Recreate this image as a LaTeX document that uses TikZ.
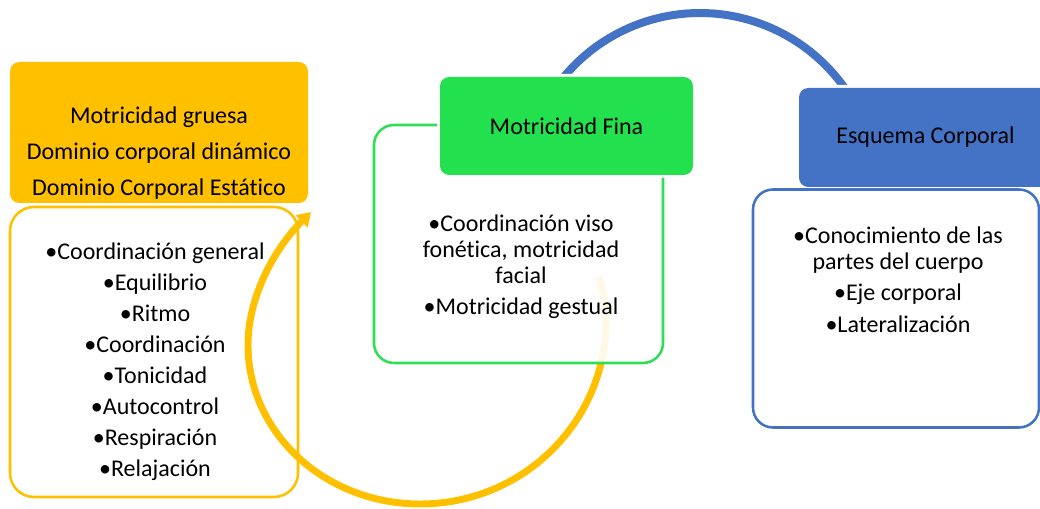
\documentclass[tikz,border=0pt]{standalone}
\usepackage{fontspec}
\setmainfont{Carlito}[Ligatures=NoCommon]
\usetikzlibrary{arrows.meta}
\definecolor{cyel}{HTML}{FFC000}
\definecolor{cgrn}{HTML}{23E04E}
\definecolor{cgrnl}{HTML}{2EDF55}
\definecolor{cblu}{HTML}{4472C4}
\tikzset{
  headbox/.style={rectangle, rounded corners=7pt, inner sep=0pt,
    preaction={draw=white, line width=4.5pt}},
  outbox/.style={rectangle, inner sep=0pt, line width=1.9pt, fill=white},
  txt/.style={align=center, inner sep=0pt, text=black},
  bodyfont/.style={font=\fontsize{18}{23.25}\selectfont},
  wrapfont/.style={font=\fontsize{18}{19.5}\selectfont},
  yarc/.style={draw=cyel, line width=5.2pt, -{Triangle[width=12.5pt,length=10pt]}},
  barc/.style={draw=cblu, line width=6pt}
}
\begin{document}
\begin{tikzpicture}[x=0.75pt, y=-0.75pt]
\useasboundingbox (0,0) rectangle (1040,509);
% yellow column
\node[headbox, fill=cyel, minimum width=223.5pt, minimum height=105.75pt] (yhead) at (159,132.5) {};
\node[outbox, draw=cyel, rounded corners=18pt, minimum width=216pt, minimum height=217.5pt] (ybox) at (154,352) {};
% yellow cycle arrow
\coordinate (ys) at (599,277);
\coordinate (yr) at (606,321);
\coordinate (yb) at (420,504);
\coordinate (yl) at (248,345);
\coordinate (yt) at (311,212);
\draw[yarc] (ys) .. controls (603,290) and (606,305) .. (yr)
  .. controls (606,422) and (523,504) .. (yb)
  .. controls (325,504) and (248,433) .. (yl)
  .. controls (248,295) and (276,247) .. (yt);
% green column
\node[outbox, draw=cgrnl, fill opacity=0.9, rounded corners=15pt, minimum width=216.75pt, minimum height=178.5pt] (gbox) at (518.5,244) {};
% blue arc
\draw[barc] plot[domain=208:332, samples=80] ({700+177*cos(\x)},{190+177*sin(\x)});
\node[headbox, fill=cgrn, minimum width=189.75pt, minimum height=73.5pt] (ghead) at (566.5,126) {};
% blue column
\node[headbox, fill=cblu, minimum width=189.75pt, minimum height=74.25pt] (bhead) at (925.5,137.5) {};
\node[outbox, draw=cblu, rounded corners=15pt, minimum width=214.5pt, minimum height=178.5pt] (bbox) at (896,308.5) {};
% texts
\node[txt, font=\fontsize{18}{27}\selectfont] (yht) at (159,153) {Motricidad gruesa\\Dominio corporal dinámico\\Dominio Corporal Estático};
\node[txt, bodyfont] (ylt) at (155,361.5) {•Coordinación general\\•Equilibrio\\•Ritmo\\•Coordinación\\•Tonicidad\\•Autocontrol\\•Respiración\\•Relajación};
\node[txt, bodyfont] (ght) at (566.5,126) {Motricidad Fina};
\node[txt, wrapfont] (glt) at (521,266.5) {•Coordinación viso\\fonética, motricidad\\facial\\[4pt]•Motricidad gestual};
\node[txt, bodyfont] (bht) at (925.5,137.5) {Esquema Corporal};
\node[txt, wrapfont] (blt) at (898,279.5) {•Conocimiento de las\\partes del cuerpo\\[4pt]•Eje corporal\\[4pt]•Lateralización};
\end{tikzpicture}
\end{document}
